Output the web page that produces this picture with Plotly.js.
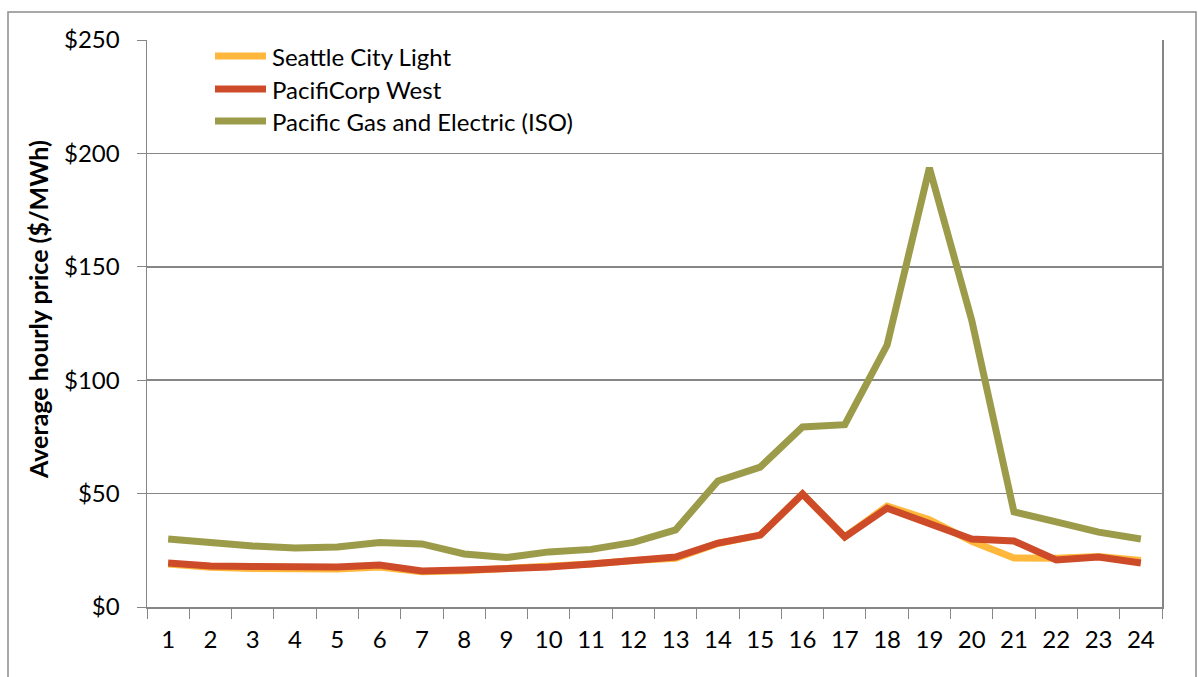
<!DOCTYPE html>
<html><head><meta charset="utf-8">
<script src="https://cdn.plot.ly/plotly-3.0.1.min.js"></script>
<style>html,body{margin:0;padding:0;background:#fff}#chart{width:1198px;height:677px}</style>
</head><body><div id="chart"></div>
<script>
const hours = ['1','2','3','4','5','6','7','8','9','10','11','12','13','14','15','16','17','18','19','20','21','22','23','24'];
const seattleCityLight = [19,17.5,17,16.8,16.8,17.6,15.5,16,16.8,17.6,19,20.5,21.5,28,31.7,49.8,30.9,44.5,38.5,29,21.6,21.5,22.3,20.5];
const pacifiCorpWest = [19.4,18.1,17.9,17.6,17.6,18.5,15.9,16.3,16.8,17.6,19,20.5,22,28.2,31.7,49.8,30.9,43.6,37,30,29.1,20.7,22,19.4];
const pgeIso = [30,28.2,26.9,26,26.5,28.4,27.8,23.4,21.8,24.3,25.4,28.5,34,55.6,61.7,79.4,80.4,115.5,193.6,126.5,41.9,37.5,33,30];
const seriesNames = ['Seattle City Light','PacifiCorp West','Pacific Gas and Electric (ISO)'];
const yTitle = 'Average hourly price ($/MWh)';
const colors = ['#FFB83C','#CD4B29','#9C9B4A'];

const series = [seattleCityLight, pacifiCorpWest, pgeIso];
const traces = series.map((v,i)=>({
  x: hours, y: v, name: seriesNames[i], type:'scatter', mode:'lines',
  line:{color:colors[i], width:7}, showlegend:false
}));

const font = "Lato, 'Open Sans', sans-serif";
const fs = 24;
// paper coords helpers: plot area 147..1162 x, 40..607 y
const px = x => (x-147)/1015, py = y => (607-y)/567;
const legY = [56, 89, 121];
const shapes = [{type:'rect', xref:'paper', yref:'paper', x0:px(8), x1:px(1196), y0:py(680), y1:py(12),
    line:{color:'#8c8c8c', width:1.5}, layer:'below'}];
const annotations = [{xref:'paper', yref:'paper', x:px(38), y:py(310), xanchor:'center', yanchor:'middle',
    textangle:-90, text:'<b>'+yTitle+'</b>', showarrow:false, font:{family:font, size:25, color:'#000'}}];
seriesNames.forEach((n,i)=>{
  shapes.push({type:'line', xref:'paper', yref:'paper', x0:px(215), x1:px(266), y0:py(legY[i]), y1:py(legY[i]),
    line:{color:colors[i], width:7}});
  annotations.push({xref:'paper', yref:'paper', x:px(270), y:py(legY[i]), xanchor:'left', yanchor:'middle',
    text:n, showarrow:false, font:{family:font, size:fs, color:'#000'}});
});

const layout = {
  width:1198, height:677,
  margin:{l:147, r:36, t:40, b:70},
  paper_bgcolor:'#fff', plot_bgcolor:'#fff',
  font:{family:font, size:fs, color:'#000'},
  showlegend:false,
  xaxis:{type:'category', tickson:'boundaries', ticks:'outside', ticklen:10, tickcolor:'#868686',
    showline:true, linecolor:'#868686', linewidth:1.5, showgrid:false, ticklabelstandoff:11,
    tickfont:{family:font, size:fs}, range:[-0.5,23.5]},
  yaxis:{range:[0,250], dtick:50, tickprefix:'$', ticks:'outside', ticklen:9, tickcolor:'#868686',
    showline:true, linecolor:'#868686', linewidth:1.5, mirror:true, ticklabelstandoff:12,
    showgrid:true, gridcolor:'#868686', gridwidth:1.5, zeroline:false,
    tickfont:{family:font, size:fs}},
  shapes: shapes, annotations: annotations
};
Plotly.newPlot('chart', traces, layout, {displayModeBar:false, staticPlot:true});
</script></body></html>
